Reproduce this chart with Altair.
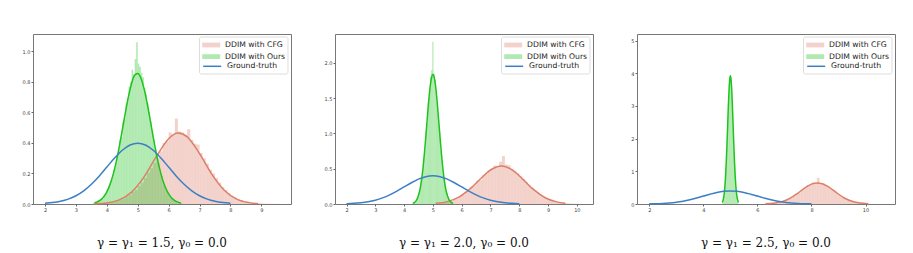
import altair as alt
import pandas as pd

# ---------------- labels / styling constants ----------------
SERIES = ["DDIM with CFG", "DDIM with Ours", "Ground-truth"]
COLORS = ["#dc7f69", "#1ec31e", "#3c7fc4"]
CAPTIONS = ["γ = γ₁ = 1.5,  γ₀ = 0.0", "γ = γ₁ = 2.0,  γ₀ = 0.0", "γ = γ₁ = 2.5,  γ₀ = 0.0"]

X_DOMAINS = [[1.61, 9.96], [1.60, 10.56], [1.545, 11.09]]
Y_DOMAINS = [[0, 1.114], [0, 2.41], [0, 5.2]]
X_TICKS = [[2, 3, 4, 5, 6, 7, 8, 9], [2, 3, 4, 5, 6, 7, 8, 9, 10], [2, 4, 6, 8, 10]]
Y_TICKS = [[0, 0.2, 0.4, 0.6, 0.8, 1.0], [0, 0.5, 1.0, 1.5, 2.0], [0, 1, 2, 3, 4, 5]]
Y_FORMATS = [".1f", ".1f", "d"]

# ---------------- ground truth N(5,1) curve (same in all panels) ----------------
gt_x = [2.0, 2.25, 2.5, 2.75, 3.0, 3.25, 3.5, 3.75, 4.0, 4.25, 4.5, 4.75, 5.0,
        5.25, 5.5, 5.75, 6.0, 6.25, 6.5, 6.75, 7.0, 7.25, 7.5, 7.75, 8.0]
gt_y = [0.0044, 0.0091, 0.0175, 0.0317, 0.0540, 0.0863, 0.1295, 0.1826, 0.2420, 0.3011, 0.3521, 0.3867, 0.3989,
        0.3867, 0.3521, 0.3011, 0.2420, 0.1826, 0.1295, 0.0863, 0.0540, 0.0317, 0.0175, 0.0091, 0.0044]

# ---------------- panel 1 (gamma = 1.5) ----------------
cfg1_hist_start, cfg1_hist_bin = 3.6, 0.1
cfg1_hist = [0.003, 0.005, 0.004, 0.008, 0.010, 0.012, 0.018, 0.022, 0.030, 0.036,
             0.048, 0.060, 0.080, 0.092, 0.118, 0.140, 0.170, 0.205, 0.235, 0.270,
             0.305, 0.345, 0.400, 0.410, 0.470, 0.455, 0.560, 0.475, 0.470, 0.455,
             0.490, 0.420, 0.395, 0.390, 0.335, 0.300, 0.265, 0.225, 0.200, 0.170,
             0.140, 0.112, 0.092, 0.072, 0.056, 0.044, 0.034, 0.026, 0.019, 0.014,
             0.011, 0.008, 0.006, 0.004, 0.003, 0.002, 0.002, 0.001, 0.001, 0.001]
ours1_hist_start, ours1_hist_bin = 3.55, 0.05
ours1_hist = [0.008, 0.012, 0.010, 0.022, 0.020, 0.038, 0.034, 0.062, 0.070, 0.098,
              0.110, 0.152, 0.168, 0.225, 0.240, 0.310, 0.345, 0.420, 0.440, 0.540,
              0.560, 0.660, 0.690, 0.770, 0.800, 0.880, 0.850, 0.950, 1.060, 0.920,
              0.900, 0.860, 0.830, 0.760, 0.720, 0.660, 0.600, 0.540, 0.480, 0.420,
              0.360, 0.310, 0.270, 0.220, 0.185, 0.150, 0.120, 0.095, 0.078, 0.060,
              0.045, 0.034, 0.026, 0.020, 0.014, 0.010, 0.007, 0.005]
cfg1_kde_x = [3.6, 4.0, 4.4, 4.8, 5.2, 5.6, 6.0, 6.3, 6.6, 7.0, 7.4, 7.8, 8.2, 8.6, 8.9]
cfg1_kde_y = [0.002, 0.007, 0.027, 0.078, 0.176, 0.310, 0.428, 0.465, 0.440, 0.330, 0.194, 0.090, 0.032, 0.009, 0.003]
ours1_kde_x = [3.6, 3.7, 3.8, 3.9, 4.0, 4.1, 4.2, 4.3, 4.4, 4.5, 4.6, 4.7, 4.8, 4.9, 5.0,
               5.1, 5.2, 5.3, 5.4, 5.5, 5.6, 5.7, 5.8, 5.9, 6.0, 6.1, 6.2, 6.3, 6.4]
ours1_kde_y = [0.008, 0.015, 0.027, 0.048, 0.080, 0.127, 0.191, 0.273, 0.373, 0.485, 0.599, 0.705, 0.790, 0.843, 0.855,
               0.826, 0.759, 0.665, 0.554, 0.439, 0.331, 0.238, 0.163, 0.106, 0.066, 0.039, 0.022, 0.012, 0.006]

# ---------------- panel 2 (gamma = 2.0) ----------------
cfg2_hist_start, cfg2_hist_bin = 5.1, 0.1
cfg2_hist = [0.008, 0.012, 0.020, 0.026, 0.040, 0.048, 0.072, 0.080, 0.115, 0.130,
             0.175, 0.190, 0.245, 0.265, 0.330, 0.340, 0.410, 0.425, 0.480, 0.500,
             0.545, 0.520, 0.600, 0.680, 0.560, 0.550, 0.500, 0.470, 0.440, 0.395,
             0.350, 0.310, 0.265, 0.235, 0.195, 0.160, 0.130, 0.100, 0.082, 0.064,
             0.048, 0.036, 0.027, 0.020, 0.014, 0.010, 0.007, 0.005, 0.003, 0.002, 0.001]
ours2_hist_start, ours2_hist_bin = 4.30, 0.04
ours2_hist = [0.010, 0.025, 0.035, 0.070, 0.090, 0.160, 0.210, 0.340, 0.430, 0.640,
              0.760, 1.030, 1.150, 1.450, 1.520, 1.800, 1.900, 2.300, 1.850, 1.760,
              1.560, 1.420, 1.150, 1.010, 0.760, 0.620, 0.430, 0.330, 0.210, 0.160,
              0.090, 0.065, 0.035, 0.020, 0.012]
cfg2_kde_x = [5.1, 5.5, 5.9, 6.3, 6.7, 7.0, 7.4, 7.8, 8.1, 8.5, 8.9, 9.3, 9.6]
cfg2_kde_y = [0.009, 0.034, 0.098, 0.217, 0.376, 0.482, 0.540, 0.470, 0.360, 0.203, 0.089, 0.030, 0.012]
ours2_kde_x = [4.30, 4.35, 4.40, 4.45, 4.50, 4.55, 4.60, 4.65, 4.70, 4.75, 4.80, 4.85, 4.90, 4.95, 5.00,
               5.05, 5.10, 5.15, 5.20, 5.25, 5.30, 5.35, 5.40, 5.45, 5.50, 5.55, 5.60, 5.65, 5.70]
ours2_kde_y = [0.009, 0.019, 0.037, 0.070, 0.123, 0.205, 0.325, 0.488, 0.694, 0.933, 1.191, 1.439, 1.647, 1.786, 1.835,
               1.786, 1.647, 1.439, 1.191, 0.933, 0.694, 0.488, 0.325, 0.205, 0.123, 0.070, 0.037, 0.019, 0.009]

# ---------------- panel 3 (gamma = 2.5) ----------------
cfg3_hist_start, cfg3_hist_bin = 6.3, 0.1
cfg3_hist = [0.006, 0.012, 0.016, 0.030, 0.040, 0.064, 0.080, 0.120, 0.150, 0.205,
             0.240, 0.320, 0.360, 0.445, 0.480, 0.570, 0.580, 0.660, 0.640, 0.800,
             0.620, 0.630, 0.560, 0.530, 0.450, 0.400, 0.320, 0.280, 0.210, 0.175,
             0.125, 0.100, 0.066, 0.052, 0.032, 0.024, 0.014, 0.010, 0.006, 0.004,
             0.003, 0.002, 0.001, 0.001]
ours3_hist_start, ours3_hist_bin = 4.70, 0.025
ours3_hist = [0.08, 0.15, 0.24, 0.46, 0.70, 1.12, 1.55, 2.15, 2.70, 3.20, 3.60, 3.85,
              3.80, 3.70, 3.25, 2.75, 2.10, 1.60, 1.08, 0.74, 0.44, 0.27, 0.13, 0.07]
cfg3_kde_x = [6.3, 6.6, 6.9, 7.2, 7.5, 7.8, 8.0, 8.2, 8.4, 8.6, 8.9, 9.2, 9.5, 9.8, 10.1]
cfg3_kde_y = [0.006, 0.024, 0.072, 0.174, 0.336, 0.516, 0.607, 0.645, 0.619, 0.538, 0.360, 0.192, 0.082, 0.028, 0.008]
ours3_kde_x = [4.700, 4.725, 4.750, 4.775, 4.800, 4.825, 4.850, 4.875, 4.900, 4.925, 4.950, 4.975, 5.000,
               5.025, 5.050, 5.075, 5.100, 5.125, 5.150, 5.175, 5.200, 5.225, 5.250, 5.275, 5.300]
ours3_kde_y = [0.052, 0.104, 0.195, 0.344, 0.574, 0.899, 1.330, 1.850, 2.425, 2.993, 3.477, 3.803, 3.920,
               3.803, 3.477, 2.993, 2.425, 1.850, 1.330, 0.899, 0.574, 0.344, 0.195, 0.104, 0.052]

PANELS = [
    (cfg1_hist_start, cfg1_hist_bin, cfg1_hist, ours1_hist_start, ours1_hist_bin, ours1_hist,
     cfg1_kde_x, cfg1_kde_y, ours1_kde_x, ours1_kde_y),
    (cfg2_hist_start, cfg2_hist_bin, cfg2_hist, ours2_hist_start, ours2_hist_bin, ours2_hist,
     cfg2_kde_x, cfg2_kde_y, ours2_kde_x, ours2_kde_y),
    (cfg3_hist_start, cfg3_hist_bin, cfg3_hist, ours3_hist_start, ours3_hist_bin, ours3_hist,
     cfg3_kde_x, cfg3_kde_y, ours3_kde_x, ours3_kde_y),
]

PATCH = "M-1.7,-0.45H1.7V0.45H-1.7Z"
LINE = "M-1.7,0H1.7"
FONT = "DejaVu Sans"
LEG_X = 170.7
LEG_FONT = 7.7


def hist_frame(start, width, heights, name):
    return pd.DataFrame({
        "x0": [round(start + i * width, 4) for i in range(len(heights))],
        "x1": [round(start + (i + 1) * width, 4) for i in range(len(heights))],
        "y": heights,
        "y0": [0.0] * len(heights),
        "series": [name] * len(heights),
    })


def panel(k):
    cs, cw, ch, os_, ow, oh, cx, cy, ox, oy = PANELS[k]
    xs = alt.Scale(domain=X_DOMAINS[k], nice=False, zero=False)
    ys = alt.Scale(domain=Y_DOMAINS[k], nice=False, zero=False)
    xa = alt.Axis(values=X_TICKS[k], format="d", title=None, grid=False, domain=False,
                  labelFont=FONT, labelFontSize=5, labelColor="#444", tickSize=2,
                  tickColor="#666", labelPadding=1.5, labelOverlap=False, labelFlush=False)
    ya = alt.Axis(values=Y_TICKS[k], format=Y_FORMATS[k], title=None, grid=False, domain=False,
                  labelFont=FONT, labelFontSize=5, labelColor="#444", tickSize=2,
                  tickColor="#666", labelPadding=1, minExtent=24, maxExtent=24,
                  labelOverlap=False, labelFlush=False)

    hist = pd.concat([hist_frame(cs, cw, ch, SERIES[0]), hist_frame(os_, ow, oh, SERIES[1])],
                     ignore_index=True)
    bars = alt.Chart(hist).mark_rect(opacity=0.35).encode(
        x=alt.X("x0:Q", scale=xs, axis=xa),
        x2="x1:Q",
        y=alt.Y("y:Q", scale=ys, axis=ya),
        y2="y0:Q",
        fill=alt.Fill("series:N", scale=alt.Scale(domain=SERIES[:2], range=COLORS[:2]),
                      legend=alt.Legend(title=None, orient="none", legendX=LEG_X, legendY=3.5,
                                        symbolType=PATCH, symbolSize=112, symbolStrokeWidth=0,
                                        labelFont=FONT, labelFontSize=LEG_FONT, labelColor="#222",
                                        labelOffset=8.4, rowPadding=1.6, padding=2)),
    )
    cfg_line = alt.Chart(pd.DataFrame({"x": cx, "y": cy})).mark_line(
        color=COLORS[0], strokeWidth=1.5, interpolate="monotone").encode(
        x=alt.X("x:Q", scale=xs, axis=xa), y=alt.Y("y:Q", scale=ys, axis=ya))
    ours_line = alt.Chart(pd.DataFrame({"x": ox, "y": oy})).mark_line(
        color=COLORS[1], strokeWidth=1.5, interpolate="monotone").encode(
        x=alt.X("x:Q", scale=xs, axis=xa), y=alt.Y("y:Q", scale=ys, axis=ya))
    gt_line = alt.Chart(pd.DataFrame({"x": gt_x, "y": gt_y, "gt": [SERIES[2]] * len(gt_x)})).mark_line(
        strokeWidth=1.5, interpolate="monotone").encode(
        x=alt.X("x:Q", scale=xs, axis=xa), y=alt.Y("y:Q", scale=ys, axis=ya),
        stroke=alt.Stroke("gt:N", scale=alt.Scale(domain=[SERIES[2]], range=[COLORS[2]]),
                          legend=alt.Legend(title=None, orient="none", legendX=LEG_X, legendY=23.8,
                                            symbolType=LINE, symbolSize=112, symbolStrokeWidth=1.5,
                                            labelFont=FONT, labelFontSize=LEG_FONT, labelColor="#222",
                                            labelOffset=8.4, rowPadding=0, padding=2)),
    )
    box = alt.Chart(pd.DataFrame({"k": [0]})).mark_rect(
        fill="white", fillOpacity=0.8, stroke="#d4d4d4", strokeWidth=0.8, cornerRadius=2).encode(
        x=alt.value(166.5), x2=alt.value(255), y=alt.value(3), y2=alt.value(40))

    return alt.layer(bars, cfg_line, ours_line, gt_line, box).properties(
        width=258, height=170,
        title=alt.TitleParams(CAPTIONS[k], orient="bottom", anchor="middle", font="DejaVu Serif",
                              fontSize=12, fontWeight="normal", color="#111", baseline="top", offset=25),
    )


chart = alt.hconcat(panel(0), panel(1), panel(2), spacing=18).resolve_scale(
    x="independent", y="independent", fill="independent", stroke="independent"
).resolve_legend(fill="independent", stroke="independent").configure(
    padding={"left": 0, "top": 25, "right": 0, "bottom": 0}
).configure_view(stroke="#777", strokeWidth=1)

chart.save("out.html", embed_options={"renderer": "svg", "actions": False})
